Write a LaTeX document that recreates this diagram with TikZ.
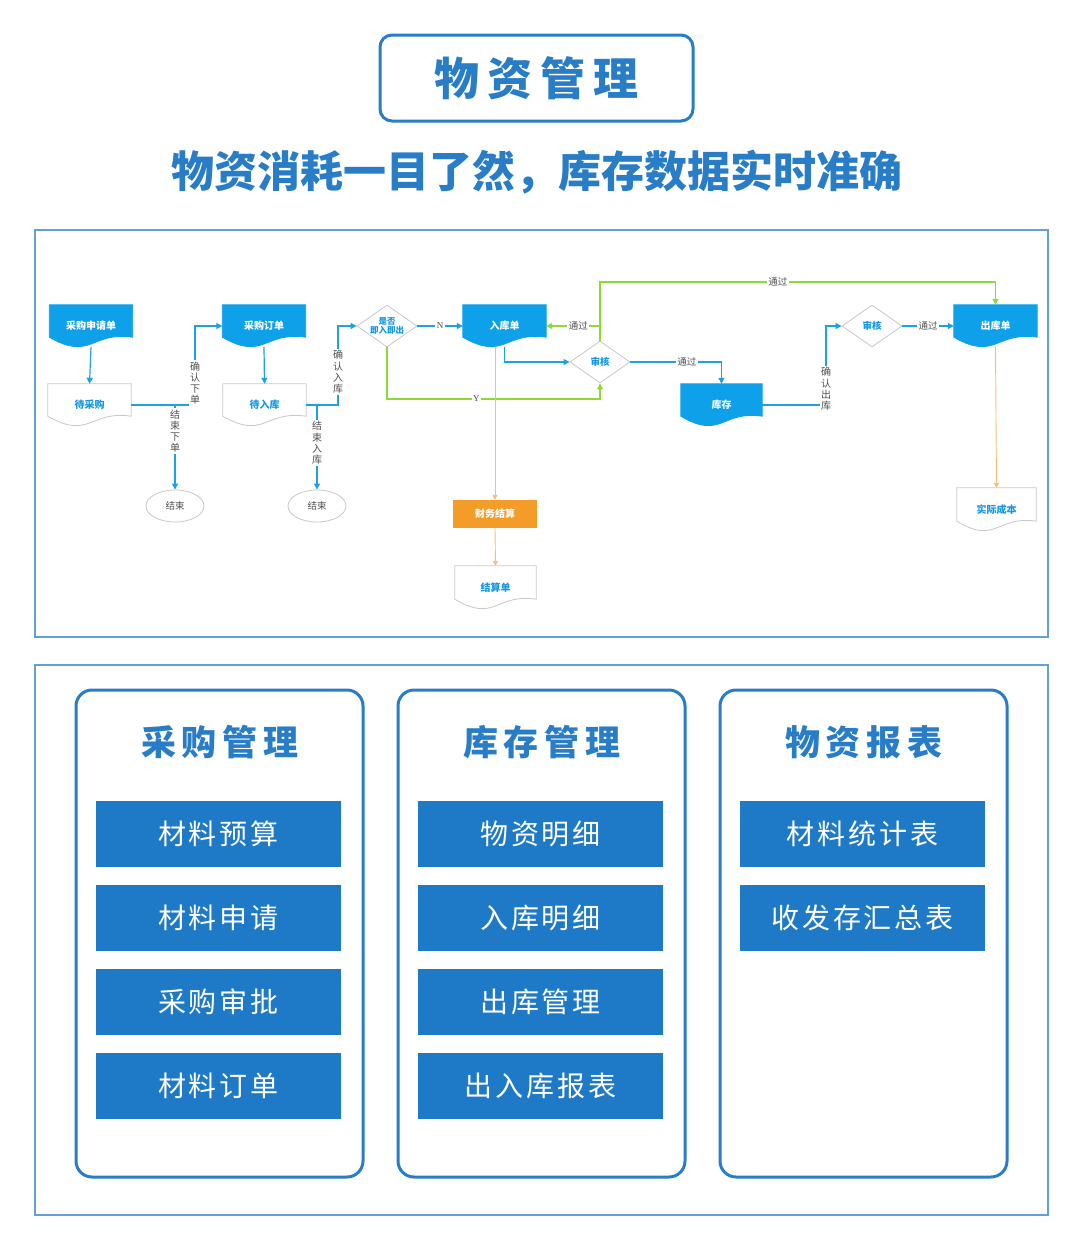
\documentclass[tikz,border=0pt]{standalone}
\usepackage{fontspec}
\setmainfont{Noto Sans CJK SC}
\newfontfamily\nserif{Liberation Serif}
\usetikzlibrary{arrows.meta,shapes.geometric,calc,backgrounds}
\definecolor{titleblue}{RGB}{40,125,198}
\definecolor{frameblue}{RGB}{100,160,215}
\definecolor{btnblue}{RGB}{30,122,198}
\definecolor{flowblue}{RGB}{14,160,233}
\definecolor{lineblue}{RGB}{30,160,228}
\definecolor{txtblue}{RGB}{20,152,228}
\definecolor{fgreen}{RGB}{140,218,52}
\definecolor{forange}{RGB}{243,157,40}
\definecolor{lorange}{RGB}{245,190,115}
\definecolor{docgrey}{RGB}{200,200,200}
\definecolor{lblgrey}{RGB}{80,80,80}
\newcommand\docshape[2]{%
  \filldraw[#2] (#1.north west) -- (#1.north east) -- ($(#1.south east)+(0,-10)$)
   .. controls ($(#1.south)+(0,-16)$) and ($(#1.south)+(0,14)$) .. ($(#1.south west)+(0,-10)$) -- cycle;}
\tikzset{
 arr/.style={-{Triangle[length=6pt,width=6pt]}},
 sarr/.style={-{Triangle[length=5pt,width=5pt]}},
 bline/.style={draw=lineblue,line width=1.2pt},
 gline/.style={draw=fgreen,line width=1.2pt},
 oline/.style={draw=lorange,line width=0.9pt},
 docnode/.style={rectangle,inner sep=0pt,minimum width=83pt,minimum height=42pt,font=\fontsize{10}{11}\selectfont\bfseries},
 fdoc/.style={docnode,text=white},
 wdoc/.style={docnode,text=txtblue},
 dia/.style={diamond,draw=docgrey,line width=0.8pt,fill=white,inner sep=0pt,minimum width=60pt,minimum height=42pt,text=txtblue,align=center,font=\fontsize{9.5}{10.5}\selectfont\bfseries},
 endnode/.style={ellipse,draw=docgrey,line width=0.8pt,minimum width=58pt,minimum height=32pt,inner sep=0pt,font=\fontsize{9.5}{11}\selectfont,text=lblgrey},
 elbl/.style={fill=white,inner sep=1.5pt,font=\fontsize{9.5}{11}\selectfont,text=lblgrey},
 vlbl/.style={elbl,align=center,font=\fontsize{10}{11.2}\selectfont},
 panel/.style={draw=titleblue,line width=3pt,rounded corners=16pt,minimum width=287pt,minimum height=487pt,inner sep=0pt},
 ptitle/.style={text=titleblue,font=\fontsize{35}{40}\selectfont\bfseries},
 btn/.style={fill=btnblue,text=white,minimum width=245pt,minimum height=66pt,inner sep=0pt,font=\fontsize{28}{30}\selectfont},
 frame/.style={draw=frameblue,line width=1.5pt,minimum width=1013pt,inner sep=0pt},
}
\begin{document}
\begin{tikzpicture}[x=1pt,y=-1pt]
\useasboundingbox (0,0) rectangle (1080,1253);
\begin{scope}[on background layer]
\fill[white] (0,0) rectangle (1080,1253);
\end{scope}

% header
\node[draw=titleblue,line width=3pt,rounded corners=12pt,minimum width=313pt,minimum height=86pt,inner sep=0pt,
      text=titleblue,font=\fontsize{45}{50}\selectfont\bfseries] (title) at (536.5,78) {物\hspace{8pt}资\hspace{8pt}管\hspace{8pt}理};
\node[text=titleblue,font=\fontsize{43}{46}\selectfont\bfseries] (sub) at (537,172) {物资消耗一目了然，库存数据实时准确};

% frames
\node[frame,minimum height=407pt] (flowframe) at (541.5,433.5) {};
\node[frame,minimum height=550pt] (modframe) at (541.5,940) {};

% flow nodes
\node[fdoc] (req) at (91,326) {采购申请单};
\node[wdoc] (wbuy) at (89.5,405) {待采购};
\node[fdoc] (po) at (264,326) {采购订单};
\node[wdoc] (win) at (264.5,405) {待入库};
\node[endnode] (end1) at (175,506) {结束};
\node[endnode] (end2) at (317,506) {结束};
\node[dia,aspect=1.4,font=\fontsize{8.5}{9.5}\selectfont\bfseries] (dq) at (387,326) {是否\\即入即出};
\node[fdoc] (rk) at (504.5,326) {入库单};
\node[dia] (sh1) at (600,362) {审核};
\node[fdoc,minimum width=81pt] (kc) at (721.5,405) {库存};
\node[dia] (sh2) at (872,326) {审核};
\node[fdoc] (ck) at (995.5,326) {出库单};
\node[wdoc,minimum width=79pt,minimum height=43pt] (sjcb) at (996.5,509.5) {实际成本};
\node[fill=forange,minimum width=84pt,minimum height=28pt,inner sep=0pt,text=white,font=\fontsize{10}{11}\selectfont\bfseries] (cwjs) at (495,514) {财务结算};
\node[wdoc,minimum width=81pt,minimum height=43pt] (jsd) at (495.5,587.5) {结算单};

\begin{scope}[on background layer]
\docshape{req}{fill=flowblue,draw=flowblue,line width=0.8pt}
\docshape{po}{fill=flowblue,draw=flowblue,line width=0.8pt}
\docshape{rk}{fill=flowblue,draw=flowblue,line width=0.8pt}
\docshape{kc}{fill=flowblue,draw=flowblue,line width=0.8pt}
\docshape{ck}{fill=flowblue,draw=flowblue,line width=0.8pt}
\docshape{wbuy}{fill=white,draw=docgrey,line width=0.8pt}
\docshape{win}{fill=white,draw=docgrey,line width=0.8pt}
\docshape{sjcb}{fill=white,draw=docgrey,line width=0.8pt}
\docshape{jsd}{fill=white,draw=docgrey,line width=0.8pt}
\end{scope}

% flow connectors
\coordinate (j1) at (195,405);
\coordinate (j2) at (175,405);
\coordinate (j3) at (338,405);
\coordinate (j4) at (317,405);
\coordinate (j5) at (826,405);
\coordinate (gy) at (387,399);
\coordinate (gt) at (600,282);
\draw[bline,arr] (req.south) -- (wbuy.north);
\draw[bline,arr] (wbuy.east) -- (j1) -- (j1 |- po.west) -- (po.west);
\draw[bline,arr] (j2) -- (end1.north);
\draw[bline,arr] (po.south) -- (win.north);
\draw[bline,arr] (win.east) -- (j3) -- (j3 |- dq.west) -- (dq.west);
\draw[bline,arr] (j4) -- (end2.north);
\draw[bline,arr] (dq.east) -- node[elbl,font=\nserif\fontsize{9}{10}\selectfont]{N} (rk.west);
\draw[gline,arr] (dq.south) -- (gy) -- node[elbl,pos=0.42,font=\nserif\fontsize{9}{10}\selectfont]{Y} (gy -| sh1.south) -- (sh1.south);
\draw[bline,arr] (rk.south) |- (sh1.west);
\draw[oline,sarr] (cwjs.north |- rk.south) -- (cwjs.north);
\draw[oline,sarr] (cwjs.south) -- (jsd.north);
\draw[gline,arr] (sh1.north) -- (gt) -- node[elbl,pos=0.45]{通过} (gt -| ck.north) -- (ck.north);
\draw[gline,arr] (sh1.north |- rk.east) -- node[elbl,pos=0.4]{通过} (rk.east);
\draw[bline,arr] (sh1.east) -| node[elbl,pos=0.31]{通过} (kc.north);
\draw[bline,arr] (kc.east) -- (j5) -- (j5 |- sh2.west) -- (sh2.west);
\draw[bline,arr] (sh2.east) -- node[elbl]{通过} (ck.west);
\draw[oline,sarr] (ck.south) -- (sjcb.north);

% vertical labels
\node[vlbl] (l1) at (195,383) {确\\认\\下\\单};
\node[vlbl] (l2) at (175,431) {结\\束\\下\\单};
\node[vlbl] (l3) at (338,372) {确\\认\\入\\库};
\node[vlbl] (l4) at (317,443) {结\\束\\入\\库};
\node[vlbl] (l5) at (826,389) {确\\认\\出\\库};

% module panels
\node[panel] (p1) at (219.5,933.5) {};
\node[panel] (p2) at (541.5,933.5) {};
\node[panel] (p3) at (863.5,933.5) {};
\node[ptitle] (t1) at (220,742) {采\hspace{6pt}购\hspace{6pt}管\hspace{6pt}理};
\node[ptitle] (t2) at (542,742) {库\hspace{6pt}存\hspace{6pt}管\hspace{6pt}理};
\node[ptitle] (t3) at (864,742) {物\hspace{6pt}资\hspace{6pt}报\hspace{6pt}表};

\node[btn] (b11) at (218.5,834) {材\hspace{3pt}料\hspace{3pt}预\hspace{3pt}算};
\node[btn] (b12) at (218.5,918) {材\hspace{3pt}料\hspace{3pt}申\hspace{3pt}请};
\node[btn] (b13) at (218.5,1002) {采\hspace{3pt}购\hspace{3pt}审\hspace{3pt}批};
\node[btn] (b14) at (218.5,1086) {材\hspace{3pt}料\hspace{3pt}订\hspace{3pt}单};
\node[btn] (b21) at (540.5,834) {物\hspace{3pt}资\hspace{3pt}明\hspace{3pt}细};
\node[btn] (b22) at (540.5,918) {入\hspace{3pt}库\hspace{3pt}明\hspace{3pt}细};
\node[btn] (b23) at (540.5,1002) {出\hspace{3pt}库\hspace{3pt}管\hspace{3pt}理};
\node[btn] (b24) at (540.5,1086) {出\hspace{3pt}入\hspace{3pt}库\hspace{3pt}报\hspace{3pt}表};
\node[btn] (b31) at (862.5,834) {材\hspace{3pt}料\hspace{3pt}统\hspace{3pt}计\hspace{3pt}表};
\node[btn] (b32) at (862.5,918) {收\hspace{3pt}发\hspace{3pt}存\hspace{3pt}汇\hspace{3pt}总\hspace{3pt}表};
\end{tikzpicture}
\end{document}
